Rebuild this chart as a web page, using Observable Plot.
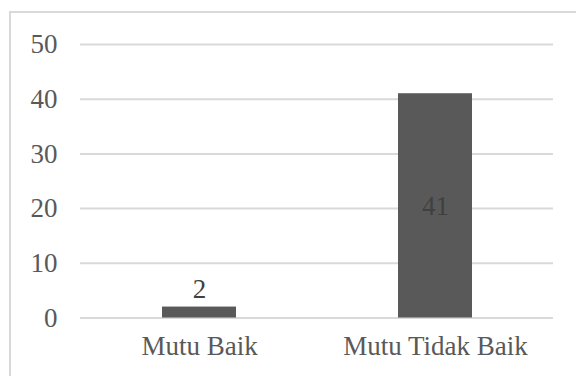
<!DOCTYPE html>
<html><head><meta charset="utf-8">
<script src="https://cdn.jsdelivr.net/npm/d3@7"></script>
<script src="https://cdn.jsdelivr.net/npm/@observablehq/plot@0.6"></script>
<style>
html,body{margin:0;padding:0;background:#fff;}
#wrap{position:relative;width:576px;height:376px;overflow:hidden;}
#border{position:absolute;left:9px;top:11px;width:600px;height:400px;border-left:2px solid #d9d9d9;border-top:2px solid #d9d9d9;}
#chart{position:absolute;left:0;top:0;}
#chart svg, #chart svg text, #chart svg g { font-family: "Liberation Serif", "Times New Roman", serif !important; }
</style></head>
<body>
<div id="wrap"><div id="border"></div><div id="chart"></div></div>
<script>
const categories = ["Mutu Baik", "Mutu Tidak Baik"];
const values = [2, 41];
const yTicks = [0, 10, 20, 30, 40, 50];

const data = categories.map((c, i) => ({category: c, value: values[i]}));

const chart = Plot.plot({
  width: 576,
  height: 376,
  marginLeft: 80,
  marginRight: 23,
  marginTop: 44,
  marginBottom: 58.5,
  style: {fontSize: "27px", color: "#595959", background: "transparent"},
  x: {domain: categories, paddingInner: 0.687, paddingOuter: 0.3435, label: null, tickSize: 0, tickPadding: 18},
  y: {domain: [0, 50], ticks: yTicks, label: null, tickSize: 0, tickPadding: 23},
  marks: [
    Plot.gridY(yTicks, {stroke: "#d9d9d9", strokeOpacity: 1, strokeWidth: 2}),
    Plot.barY(data, {x: "category", y: "value", fill: "#595959"}),
    Plot.text(data.filter(d => d.value < 10), {x: "category", y: "value", text: d => String(d.value), dy: -18, fill: "#404040", fontSize: 27}),
    Plot.text(data.filter(d => d.value >= 10), {x: "category", y: d => d.value / 2, text: d => String(d.value), fill: "#404040", fontSize: 27}),
    Plot.axisY(yTicks, {tickSize: 0, tickPadding: 23, fill: "#595959", fontSize: 27, label: null}),
    Plot.axisX({tickSize: 0, tickPadding: 18, fill: "#595959", fontSize: 27, label: null})
  ]
});
document.getElementById("chart").appendChild(chart);
</script>
</body></html>
